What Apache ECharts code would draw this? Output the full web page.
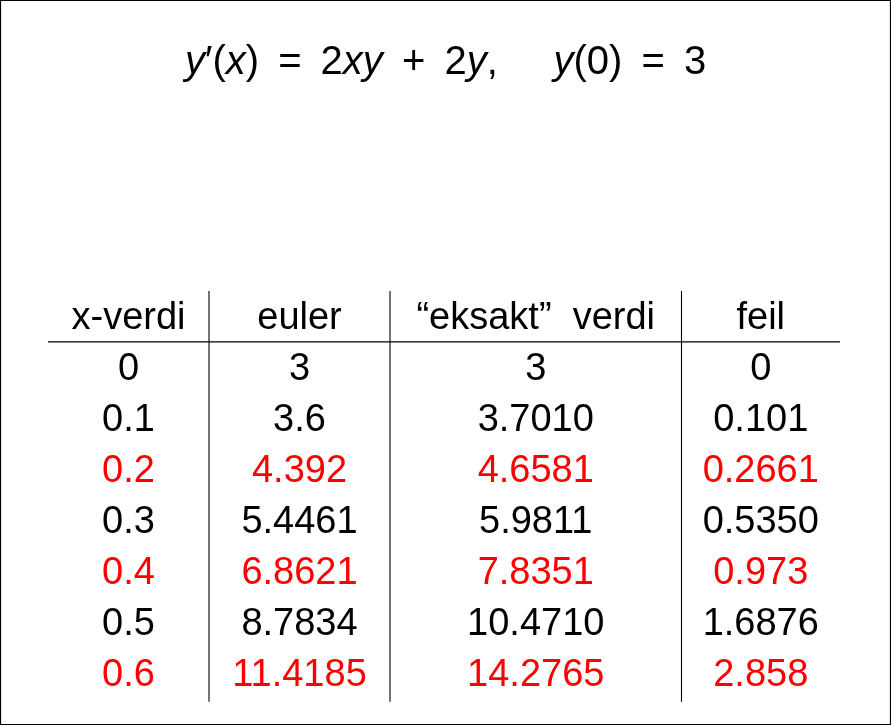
<!DOCTYPE html>
<html>
<head>
<meta charset="utf-8">
<script src="https://cdn.jsdelivr.net/npm/echarts@6/dist/echarts.min.js"></script>
<style>
  html, body { margin: 0; padding: 0; background: #fff; }
  #main { width: 891px; height: 725px; }
</style>
</head>
<body>
<div id="main"></div>
<script>
// table contents, kept as text so trailing zeros stay (3.7010)
const headers = ['x-verdi', 'euler', '\u201ceksakt\u201d  verdi', 'feil']
const xValues = ['0', '0.1', '0.2', '0.3', '0.4', '0.5', '0.6']
const eulerValues = ['3', '3.6', '4.392', '5.4461', '6.8621', '8.7834', '11.4185']
const exactValues = ['3', '3.7010', '4.6581', '5.9811', '7.8351', '10.4710', '14.2765']
const errorValues = ['0', '0.101', '0.2661', '0.5350', '0.973', '1.6876', '2.858']
const redRows = [2, 4, 6]

// layout: column edges on the x axis (0..891), rows are indices on the y axis
const colEdges = [48, 209, 390, 681.5, 840]
const FONT = '38px "Liberation Sans", sans-serif'

const columns = [xValues, eulerValues, exactValues, errorValues]
const cells = []
headers.forEach((h, c) => cells.push([c, 0, h, 0]))
columns.forEach((col, c) => {
  col.forEach((v, r) => cells.push([c, r + 1, v, redRows.includes(r) ? 1 : 0]))
})

const dom = document.getElementById('main')
const chart = echarts.init(dom)

const n = { fontFamily: 'Liberation Sans', fontSize: 40, fontWeight: 'normal', color: '#000' }
const i = { fontFamily: 'Liberation Sans', fontSize: 40, fontWeight: 'normal', fontStyle: 'italic', color: '#000' }
const sp = ' \u2009'

chart.setOption({
  animation: false,
  title: {
    left: 'center',
    top: 38,
    text: '{i|y}{n|\u2032(}{i|x}{n|)' + sp + '=' + sp + '2}{i|xy}{n|' + sp + '+' + sp + '2}{i|y}{n|,     }{i|y}{n|(0)' + sp + '=' + sp + '3}',
    textStyle: { fontWeight: 'normal', rich: { n, i } }
  },
  grid: { left: 0, right: 0, top: 319, bottom: 49.7 },
  xAxis: { type: 'value', min: 0, max: 891, show: false },
  yAxis: { type: 'value', min: 0, max: 7, inverse: true, show: false },
  graphic: [{
    type: 'rect',
    shape: { x: 0.5, y: 0.5, width: 890, height: 724 },
    style: { fill: 'none', stroke: '#000', lineWidth: 1.2 }
  }],
  series: [
    {
      // table rules
      type: 'custom',
      clip: false,
      data: [[0]],
      renderItem: (params, api) => {
        const children = []
        const a = api.coord([colEdges[0], 0.45])
        const b = api.coord([colEdges[4], 0.45])
        children.push({ type: 'line', shape: { x1: a[0], y1: a[1], x2: b[0], y2: b[1] }, style: { stroke: '#000', lineWidth: 1.3 } })
        for (let k = 1; k < 4; k++) {
          const p = api.coord([colEdges[k], -0.55])
          const q = api.coord([colEdges[k], 7.52])
          children.push({ type: 'line', shape: { x1: p[0], y1: p[1], x2: q[0], y2: q[1] }, style: { stroke: '#000', lineWidth: 1.1 } })
        }
        return { type: 'group', children }
      }
    },
    {
      type: 'custom',
      clip: false,
      data: cells,
      renderItem: (params, api) => {
        const c = api.value(0)
        const r = api.value(1)
        const item = cells[params.dataIndex]
        const mid = (colEdges[c] + colEdges[c + 1]) / 2
        const p = api.coord([mid, r])
        return {
          type: 'text',
          x: p[0],
          y: p[1],
          style: {
            text: item[2],
            font: FONT,
            fill: item[3] ? '#ff0000' : '#000000',
            align: 'center',
            verticalAlign: 'middle'
          }
        }
      }
    }
  ]
})

window.addEventListener('resize', () => chart.resize())
</script>
</body>
</html>
